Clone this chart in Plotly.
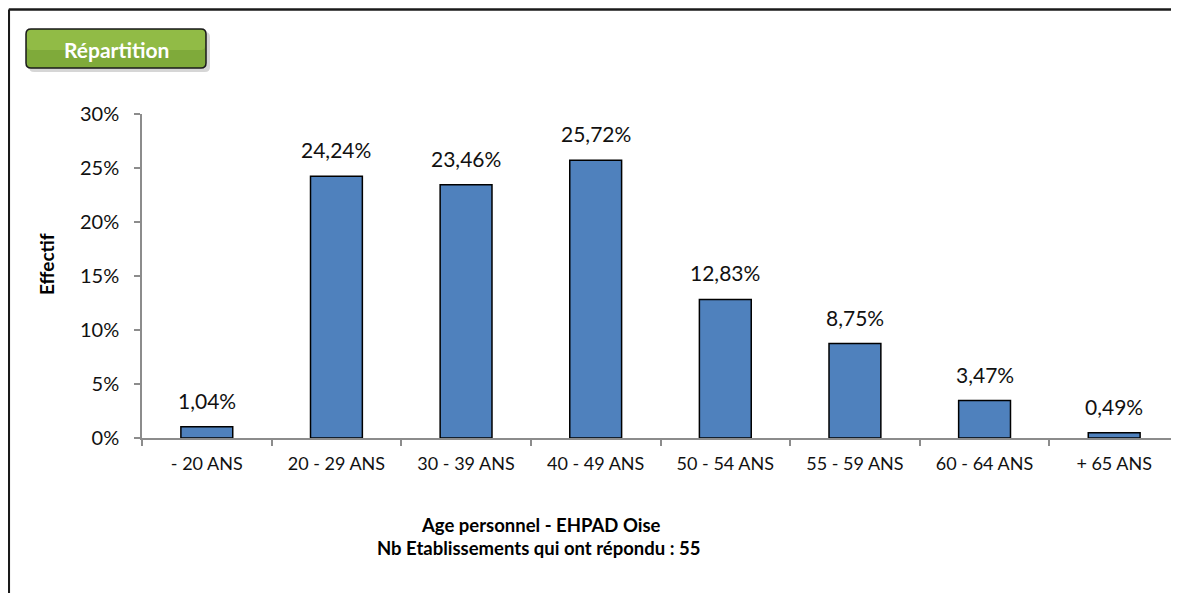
import plotly.graph_objects as go

categories = ["- 20 ANS", "20 - 29 ANS", "30 - 39 ANS", "40 - 49 ANS",
              "50 - 54 ANS", "55 - 59 ANS", "60 - 64 ANS", "+ 65 ANS"]
values = [1.04, 24.24, 23.46, 25.72, 12.83, 8.75, 3.47, 0.49]
y_ticks = [0, 5, 10, 15, 20, 25, 30]
y_title = "Effectif"
x_caption = ["Age personnel - EHPAD Oise", "Nb Etablissements qui ont répondu : 55"]
badge = "Répartition"

OFF = 8  # page body margin
W, H = 1179 - OFF, 601 - 2 * OFF
L, R, T = 142 - OFF, 0, 114 - OFF
B = H - (438 - OFF)
PW, PH = W - L - R, H - T - B


def px(x):
    return (x - OFF - L) / PW


def py(y):
    return (H - B - (y - OFF)) / PH


labels = [f"{v:.2f}".replace(".", ",") + "%" for v in values]
FONT = "Lato, 'Open Sans', sans-serif"
TXT = "#111111"

fig = go.Figure(go.Bar(
    x=categories, y=values, width=0.4,
    marker=dict(color="#4f81bd", line=dict(color="#000000", width=1.5)),
    hoverinfo="skip",
))


def rounded(x0, y0, x1, y1, r):
    rx, ry = r / PW, r / PH
    X0, X1 = px(x0), px(x1)
    Y0, Y1 = py(y0), py(y1)
    return (f"M {X0+rx},{Y0} L {X1-rx},{Y0} Q {X1},{Y0} {X1},{Y0-ry} "
            f"L {X1},{Y1+ry} Q {X1},{Y1} {X1-rx},{Y1} L {X0+rx},{Y1} "
            f"Q {X0},{Y1} {X0},{Y1+ry} L {X0},{Y0-ry} Q {X0},{Y0} {X0+rx},{Y0} Z")


shapes = [
    dict(type="line", xref="paper", yref="paper", x0=px(8.8), x1=px(8.8),
         y0=py(9.5), y1=py(650), line=dict(color="#1a1a1a", width=2.5)),
    dict(type="line", xref="paper", yref="paper", x0=px(8.8), x1=px(1250),
         y0=py(9.5), y1=py(9.5), line=dict(color="#1a1a1a", width=2.5)),
    dict(type="path", xref="paper", yref="paper", path=rounded(29, 32, 210, 72, 5),
         fillcolor="rgba(0,0,0,0.16)", line=dict(width=0)),
    dict(type="path", xref="paper", yref="paper", path=rounded(26, 29, 206, 68, 5),
         fillcolor="#7faa3a", line=dict(color="#1a1a1a", width=1.5)),
    dict(type="path", xref="paper", yref="paper", path=rounded(27, 30, 205, 50, 4),
         fillcolor="rgba(160,200,80,0.55)", line=dict(width=0)),
]

annotations = [
    dict(text=f"<b>{badge}</b>", xref="paper", yref="paper", x=px(116), y=py(49),
         showarrow=False, font=dict(size=21, color="white", family=FONT),
         xanchor="center", yanchor="middle"),
    dict(text=f"<b>{y_title}</b>", xref="paper", yref="paper", x=px(47), y=py(264),
         showarrow=False, textangle=-90, font=dict(size=19, color="#000", family=FONT),
         xanchor="center", yanchor="middle"),
    dict(text=f"<b>{x_caption[0]}</b>", xref="paper", yref="paper", x=px(541), y=py(525),
         showarrow=False, font=dict(size=18.5, color="#000", family=FONT),
         xanchor="center", yanchor="middle"),
    dict(text=f"<b>{x_caption[1]}</b>", xref="paper", yref="paper", x=px(538), y=py(548),
         showarrow=False, font=dict(size=18.5, color="#000", family=FONT),
         xanchor="center", yanchor="middle"),
]
for c, v, t in zip(categories, values, labels):
    annotations.append(dict(text=t, x=c, y=v, xref="x", yref="y", showarrow=False,
                            yanchor="bottom", yshift=12,
                            font=dict(size=21, color=TXT, family=FONT)))

fig.update_layout(
    width=W, height=H,
    margin=dict(l=L, r=R, t=T, b=B, pad=0),
    paper_bgcolor="white", plot_bgcolor="white",
    showlegend=False,
    shapes=shapes, annotations=annotations,
    font=dict(family=FONT, color=TXT),
    xaxis=dict(range=[-0.5, 7.5], showline=True, linecolor="#8c8c8c", linewidth=1.5,
               ticks="outside", tickcolor="#8c8c8c", ticklen=6, tickwidth=1.5,
               tickson="boundaries", showgrid=False, zeroline=False,
               ticklabelstandoff=9,
               tickfont=dict(size=18, color=TXT), fixedrange=True),
    yaxis=dict(range=[0, 30], tickvals=y_ticks, ticktext=[f"{t}%" for t in y_ticks],
               showline=True, linecolor="#8c8c8c", linewidth=1.5,
               ticks="outside", tickcolor="#8c8c8c", ticklen=6, tickwidth=1.5,
               showgrid=False, zeroline=False, ticklabelstandoff=11,
               tickfont=dict(size=20, color=TXT), fixedrange=True),
)

fig.write_html("out.html", config={"displayModeBar": False})
